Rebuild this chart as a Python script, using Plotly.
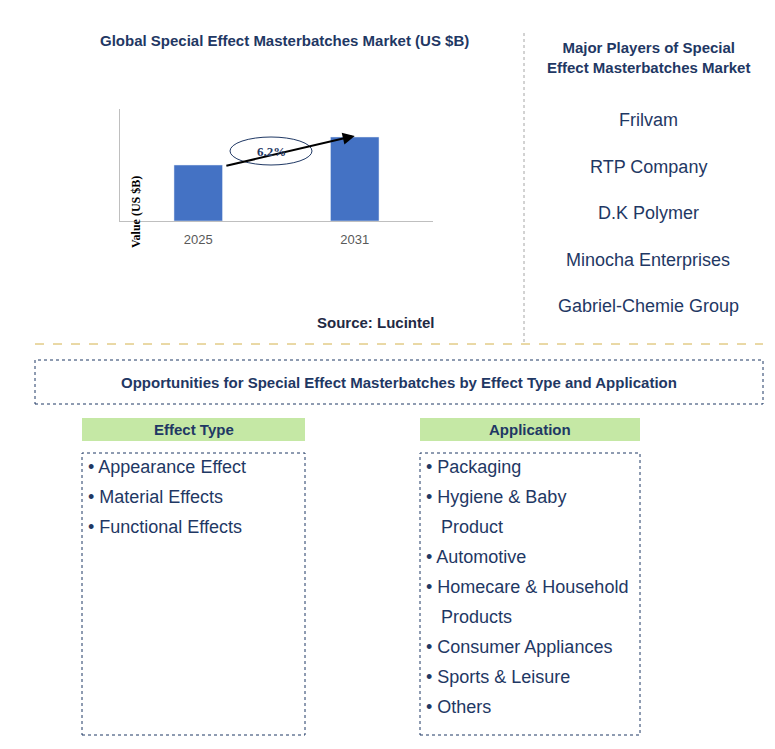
import plotly.graph_objects as go

W, H = 775, 749
years = ["2025", "2031"]
values = [1.0, 1.5]
cagr_label = "6.2%"
players = ["Frilvam", "RTP Company", "D.K Polymer", "Minocha Enterprises", "Gabriel-Chemie Group"]
effect_types = ["• Appearance Effect", "• Material Effects", "• Functional Effects"]
applications = ["• Packaging", "• Hygiene & Baby", "  Product", "• Automotive",
                "• Homecare & Household", "  Products", "• Consumer Appliances",
                "• Sports & Leisure", "• Others"]

def px(x): return x / W
def py(y): return 1 - y / H

NAVY = "#1f3864"
fig = go.Figure(go.Bar(x=years, y=values, marker_color="#4472c4", width=0.31))
fig.update_layout(
    width=W, height=H, margin=dict(l=0, r=0, t=0, b=0),
    paper_bgcolor="white", plot_bgcolor="white", showlegend=False,
    font=dict(family="Arial", color=NAVY),
    xaxis=dict(domain=[px(112), px(425)], range=[-0.5, 1.5], showline=True, linecolor="#bfbfbf",
               tickfont=dict(size=13, color="#595959", family="Arial Black"), ticks="", showgrid=False),
    yaxis=dict(domain=[py(213), py(101)], range=[0, 2.0], showline=True, linecolor="#bfbfbf",
               showticklabels=False, ticks="", showgrid=False, zeroline=False),
)
fig.update_xaxes(tickfont=dict(family="Arial", size=13, color="#595959"))
fig.update_xaxes(ticklabelstandoff=6)

shapes, ann = [], []
def rect(x0, y0, x1, y1, fill=None, dash="dot", color="#1f3864", w=1):
    shapes.append(dict(type="rect", xref="paper", yref="paper", x0=px(x0), x1=px(x1), y0=py(y1), y1=py(y0),
                       line=dict(color=color, width=w, dash=dash) if dash is not None else dict(width=0),
                       fillcolor=fill or "rgba(0,0,0,0)", layer="below"))
def text(x, y, t, size=15, bold=False, color=NAVY, anchor="center", family="Arial"):
    ann.append(dict(xref="paper", yref="paper", x=px(x), y=py(y), text=f"<b>{t}</b>" if bold else t,
                    showarrow=False, xanchor=anchor, yanchor="middle",
                    font=dict(size=size, color=color, family=family)))

text(276, 33, "Global Special Effect Masterbatches Market (US $B)", 15, True)
ann.append(dict(xref="paper", yref="paper", x=px(119), y=py(166), text="<b>Value (US $B)</b>", textangle=-90,
                showarrow=False, font=dict(size=12, family="Times New Roman", color="#000")))
text(368, 315, "Source: Lucintel", 15, True, "#1f2a44")
# arrow
ann.append(dict(x=1, y=1.52, xref="x", yref="y", ax=0.17, ay=0.98, axref="x", ayref="y", text="",
                showarrow=True, arrowhead=2, arrowsize=1.2, arrowwidth=2, arrowcolor="#000"))
shapes.append(dict(type="circle", xref="paper", yref="paper", x0=px(222), x1=px(304), y0=py(157), y1=py(129),
                   line=dict(color="#1f3864", width=1), fillcolor="white"))
text(263, 143, cagr_label, 13, True, NAVY, family="Times New Roman")

shapes.append(dict(type="line", xref="paper", yref="paper", x0=px(516), x1=px(516), y0=py(25), y1=py(335),
                   line=dict(color="#a6a6a6", width=1, dash="dot")))
text(640, 49, "Major Players of Special<br>Effect Masterbatches Market", 15, True)
for i, p in enumerate(players):
    text(640, 112 + i * 46.5, p, 18)

shapes.append(dict(type="line", xref="paper", yref="paper", x0=px(27), x1=px(755), y0=py(336), y1=py(336),
                   line=dict(color="#d4b24c", width=1, dash="dash")))
rect(27, 352, 755, 396)
text(391, 374, "Opportunities for Special Effect Masterbatches by Effect Type and Application", 15, True)

for (x0, x1, title, items) in [(74, 297, "Effect Type", effect_types), (412, 632, "Application", applications)]:
    rect(x0, 410, x1, 433, fill="#c5e8a5", dash=None)
    text((x0 + x1) / 2, 421, title, 15, True)
    rect(x0, 445, x1, 727)
    for i, it in enumerate(items):
        text(x0 + 4, 459 + i * 30, it.replace("  ", "&nbsp;&nbsp;&nbsp;"), 18, anchor="left")

fig.update_layout(shapes=shapes, annotations=ann)
fig.write_html("out.html")
